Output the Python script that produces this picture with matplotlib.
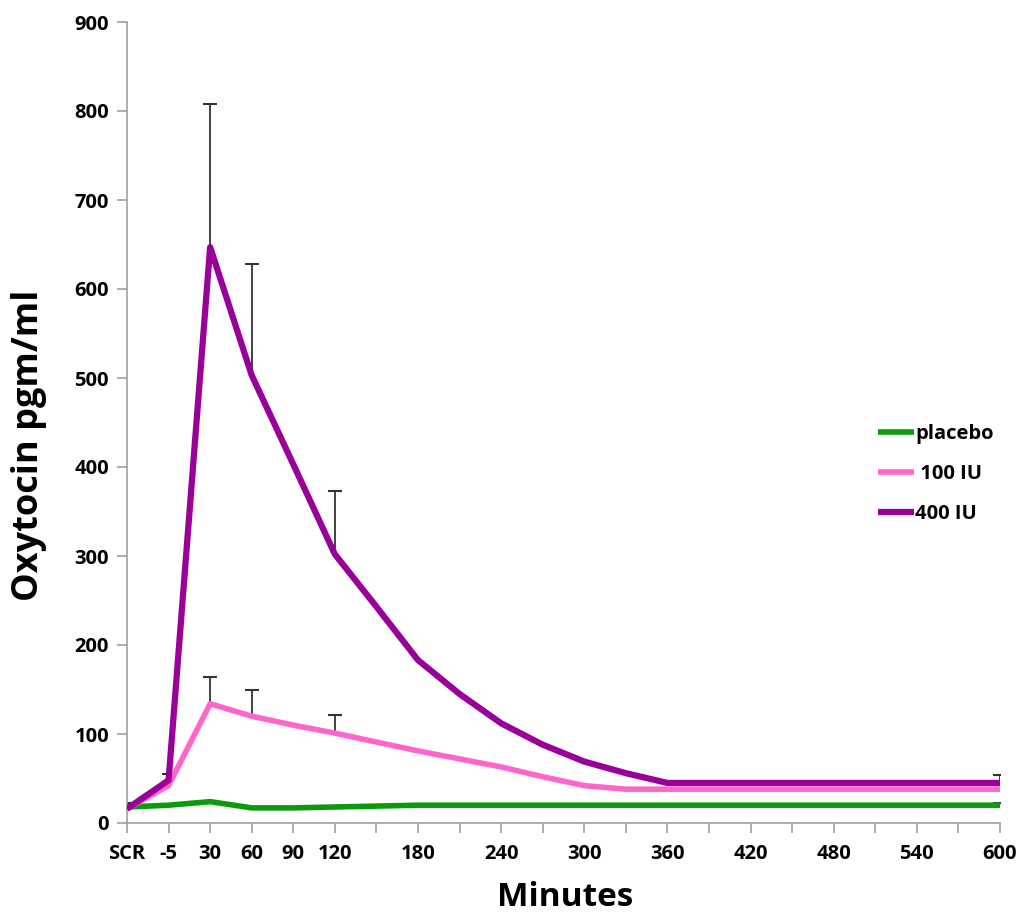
import matplotlib
matplotlib.use("Agg")
import matplotlib.pyplot as plt
import numpy as np

# Categories (every 30 min slot after 30 min), labels shown only for some
timepoints = ['SCR', '-5', '30', '60', '90', '120', '150', '180', '210', '240', '270',
              '300', '330', '360', '390', '420', '450', '480', '510', '540', '570', '600']
shown_labels = ['SCR', '-5', '30', '60', '90', '120', '180', '240', '300', '360',
                '420', '480', '540', '600']

placebo = [18, 20, 24, 17, 17, 18, 19, 20, 20, 20, 20, 20, 20, 20, 20, 20, 20, 20, 20, 20, 20, 20]
iu100 = [16, 42, 134, 120, 110, 101, 91, 81, 72, 63, 52, 42, 38, 38, 38, 38, 38, 38, 38, 38, 38, 38]
iu400 = [16, 48, 647, 503, 403, 302, 243, 183, 145, 112, 88, 69, 56, 45, 45, 45, 45, 45, 45, 45, 45, 45]

# Upper error bar tops (value of cap) at selected timepoints
err400_pts = ['-5', '30', '60', '120', '600']
err400_top = [55, 808, 628, 373, 54]
err100_pts = ['30', '60', '120']
err100_top = [164, 149, 121]
errpl_pts = ['SCR', '600']
errpl_top = [22, 22]

series_names = ['placebo', ' 100 IU', '400 IU']
colors = ['#0A9A0A', '#FF66CC', '#990099']

FONT = 'Open Sans'

fig = plt.figure(figsize=(10.2, 9.17), dpi=100)
ax = fig.add_axes([127/1020, (917-823)/917, (1000-127)/1020, (823-22)/917])

x = np.arange(len(timepoints))
ax.plot(x, placebo, color=colors[0], lw=4.0, solid_capstyle='butt', label=series_names[0], zorder=3)
ax.plot(x, iu100, color=colors[1], lw=4.0, solid_capstyle='butt', label=series_names[1], zorder=3)
ax.plot(x, iu400, color=colors[2], lw=4.5, solid_capstyle='butt', label=series_names[2], zorder=4)

def draw_err(pts, tops, values):
    xi = [timepoints.index(p) for p in pts]
    yv = [values[i] for i in xi]
    ax.vlines(xi, yv, tops, color='#333333', lw=1.3, zorder=2)
    ax.plot(xi, tops, ls='none', marker='_', ms=10, mew=1.5, color='#333333', zorder=2)

draw_err(err400_pts, err400_top, iu400)
draw_err(err100_pts, err100_top, iu100)
draw_err(errpl_pts, errpl_top, placebo)

ax.set_xlim(0, len(timepoints) - 1)
ax.set_ylim(0, 900)
ax.set_yticks(np.arange(0, 901, 100))
ax.set_xticks(x)
ax.set_xticklabels([t if t in shown_labels else '' for t in timepoints])

for s in ['top', 'right']:
    ax.spines[s].set_visible(False)
for s in ['left', 'bottom']:
    ax.spines[s].set_color('#A0A0A0')
    ax.spines[s].set_linewidth(1.2)
ax.tick_params(axis='both', colors='#A0A0A0', length=7, width=1.2, direction='out',
               labelcolor='black', labelsize=14.5)
ax.tick_params(axis='x', pad=8)
ax.tick_params(axis='y', pad=6)
for lbl in ax.get_xticklabels() + ax.get_yticklabels():
    lbl.set_fontweight('bold')
    lbl.set_family(FONT)

ax.set_ylabel('Oxytocin pgm/ml', fontsize=26, fontweight='bold', family=FONT)
ax.yaxis.set_label_coords(-(127-47)/873, (823-445)/801)
ax.set_xlabel('Minutes', fontsize=24, fontweight='bold', family=FONT)
ax.xaxis.set_label_coords((565-127)/873, -(881-823)/801)

leg = ax.legend(loc='center left', bbox_to_anchor=(0.86, (823-474)/801), frameon=False,
                borderpad=0, borderaxespad=0,
                handlelength=1.8, handletextpad=0.05, labelspacing=1.0,
                prop={'family': FONT, 'weight': 'bold', 'size': 14.5})

fig.savefig('out.png', dpi=100, facecolor='white')
